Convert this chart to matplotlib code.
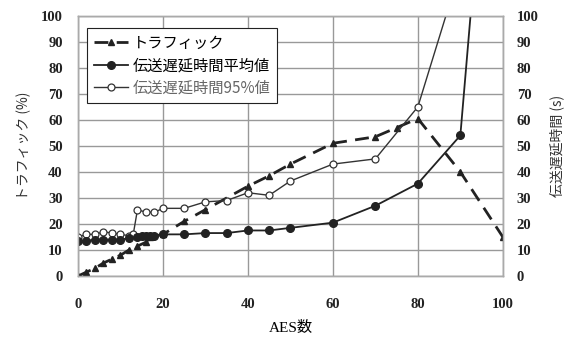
import matplotlib
matplotlib.use("Agg")
import matplotlib.pyplot as plt

plt.rcParams['font.family'] = ['Noto Sans CJK JP', 'DejaVu Sans']

# --- data ---
traffic_x = [0, 2, 4, 6, 8, 10, 12, 14, 16, 17, 20, 25, 30, 40, 45, 50, 60, 70, 75, 80, 90, 100]
traffic_y = [0, 1.5, 3, 5, 6.5, 8, 10, 11.5, 13, 15, 16, 21, 25.5, 34.5, 38.5, 43, 51, 53.5, 57, 60.5, 40, 15]

mean_x = [0, 2, 4, 6, 8, 10, 12, 14, 15, 16, 17, 18, 20, 25, 30, 35, 40, 45, 50, 60, 70, 80, 90, 95]
mean_y = [13.5, 13.5, 14, 14, 14, 14, 14.5, 15, 15.5, 15.5, 15.5, 15.5, 16, 16, 16.5, 16.5, 17.5, 17.5, 18.5, 20.5, 27, 35.5, 54, 150]

p95_x = [0, 2, 4, 6, 8, 10, 12, 13, 14, 16, 18, 20, 25, 30, 35, 40, 45, 50, 60, 70, 80, 90]
p95_y = [15, 16, 16, 17, 16.5, 16, 15.5, 16, 25.5, 24.5, 24.5, 26, 26, 28.5, 29, 32, 31, 36.5, 43, 45, 65, 118]

labels = ['トラフィック', '伝送遅延時間平均値', '伝送遅延時間95%値']
xticks = [0, 20, 40, 60, 80, 100]
yticks = list(range(0, 101, 10))

fig = plt.figure(figsize=(5.71, 3.38), dpi=100)
ax = fig.add_axes([0.1366, 0.1834, 0.744, 0.770])
ax2 = ax.twinx()

ax.plot(traffic_x, traffic_y, color='#222222', linestyle=(0, (5, 3)), linewidth=2,
        marker='^', markersize=4, label=labels[0], zorder=3)
ax.plot(mean_x, mean_y, color='#222222', linestyle='-', linewidth=1.3,
        marker='o', markersize=5.5, label=labels[1], zorder=4)
ax.plot(p95_x, p95_y, color='#333333', linestyle='-', linewidth=1.0,
        marker='o', markersize=5, markerfacecolor='white', markeredgecolor='#333333',
        markeredgewidth=0.9, label=labels[2], zorder=3)

for a in (ax, ax2):
    a.set_xlim(0, 100)
    a.set_ylim(0, 100)
    a.set_yticks(yticks)
    for s in a.spines.values():
        s.set_color('#aaaaaa')
        s.set_linewidth(1.0)

ax.set_xticks(xticks)
ax.grid(True, color='#999999', linewidth=1.0)
ax.set_axisbelow(True)

ax.tick_params(axis='both', length=0)
ax2.tick_params(axis='y', length=0)
ax.tick_params(axis='x', pad=16)
ax.tick_params(axis='y', pad=11)
ax2.tick_params(axis='y', pad=10)
for lbl in ax.get_xticklabels() + ax.get_yticklabels() + ax2.get_yticklabels():
    lbl.set_fontfamily('Liberation Serif')
    lbl.set_fontweight('bold')
    lbl.set_fontsize(10.5)
    lbl.set_color('#222222')

ax.set_xlabel('AES数', family=['Liberation Serif', 'Noto Sans CJK JP'], fontsize=11, labelpad=7)
ax.set_ylabel('トラフィック (%)', fontsize=10, labelpad=7, color='#333333')
ax2.set_ylabel('伝送遅延時間 (s)', fontsize=10, labelpad=8, color='#333333', rotation=90)

leg = ax.legend(loc='upper left', bbox_to_anchor=(0.015, 0.965), fontsize=11,
                frameon=True, fancybox=False, edgecolor='#222222', framealpha=1,
                handlelength=2.2, handletextpad=0.3, borderpad=0.45, labelspacing=0.35,
                borderaxespad=0.2)
leg.get_frame().set_linewidth(0.8)
leg.get_texts()[2].set_color('#666666')

fig.savefig('out.png', dpi=100)
